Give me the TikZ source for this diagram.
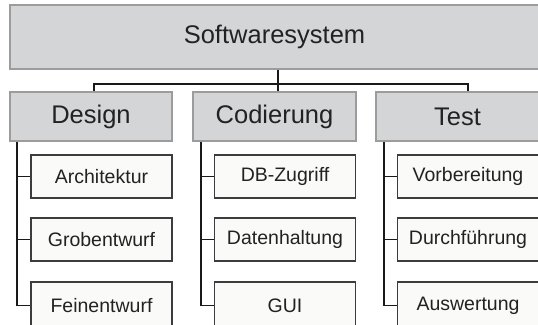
\documentclass[tikz,border=0pt]{standalone}
\usepackage{fontspec}
\setmainfont{Liberation Sans}
\definecolor{headgray}{HTML}{D4D5D7}
\definecolor{headline}{HTML}{9C9C9C}
\definecolor{taskfill}{HTML}{FAFAF8}
\definecolor{taskline}{HTML}{3C3C3C}
\definecolor{txtgray}{HTML}{222222}
\tikzset{
    head/.style={draw=headline, fill=headgray, line width=1.2pt, inner sep=0pt,
        text=txtgray, font=\fontsize{25.5}{30}\selectfont},
    task/.style={draw=taskline, fill=taskfill, line width=1.2pt, inner sep=0pt,
        minimum width=141pt, minimum height=43pt,
        text=txtgray, font=\fontsize{19.5}{23}\selectfont},
    tree/.style={draw=black!90, line width=1.7pt}
}
\begin{document}
\begin{tikzpicture}[x=1pt, y=-1pt]
    \useasboundingbox (0,0) rectangle (538,324);
    \clip (0,0) rectangle (538,324);
    \fill[white] (0,0) rectangle (538,324);
    % top level (runs past the right edge)
    \node[head, minimum width=535pt, minimum height=64pt] (sys) at (277.5,37) {\hspace*{-6pt}Softwaresystem};
    % phases
    \node[head, minimum width=162pt, minimum height=49pt] (des) at (91,116.5) {Design};
    \node[head, minimum width=163pt, minimum height=49pt] (cod) at (274.5,116.5) {Codierung};
    \node[head, minimum width=167pt, minimum height=49pt] (tst) at (459.5,116.5) {\hspace*{-4pt}Test};
    % tasks
    \node[task] (arch) at (101.5,176.5) {Architektur};
    \node[task] (grob) at (101.5,239.5) {Grobentwurf};
    \node[task, minimum height=47pt] (fein) at (101.5,305.5) {Feinentwurf};
    \node[task] (dbz) at (285,176.5) {DB-Zugriff};
    \node[task] (dat) at (285,239.5) {Datenhaltung};
    \node[task, minimum height=47pt] (gui) at (285,305.5) {GUI};
    \node[task, minimum width=145pt] (vor) at (470,176.5) {\hspace*{-4pt}Vorbereitung};
    \node[task, minimum width=145pt] (dur) at (470,239.5) {\hspace*{-4pt}Durchführung};
    \node[task, minimum width=145pt, minimum height=47pt] (ausw) at (470,305.5) {\hspace*{-4pt}Auswertung};
    % connectors
    \coordinate (hub) at (278,84);
    \coordinate (dropD) at (94,84);
    \coordinate (dropT) at (468,84);
    \coordinate (spineD) at (17,0);
    \coordinate (spineC) at (201,0);
    \coordinate (spineT) at (384,0);
    \draw[tree] (sys.south -| hub) -- (cod.north -| hub);
    \draw[tree] (des.north -| dropD) -- (dropD) -- (dropT) -- (tst.north -| dropT);
    \draw[tree] (des.south -| spineD) |- (fein.west);
    \draw[tree] (arch.west -| spineD) -- (arch.west);
    \draw[tree] (grob.west -| spineD) -- (grob.west);
    \draw[tree] (cod.south -| spineC) |- (gui.west);
    \draw[tree] (dbz.west -| spineC) -- (dbz.west);
    \draw[tree] (dat.west -| spineC) -- (dat.west);
    \draw[tree] (tst.south -| spineT) |- (ausw.west);
    \draw[tree] (vor.west -| spineT) -- (vor.west);
    \draw[tree] (dur.west -| spineT) -- (dur.west);
\end{tikzpicture}
\end{document}
